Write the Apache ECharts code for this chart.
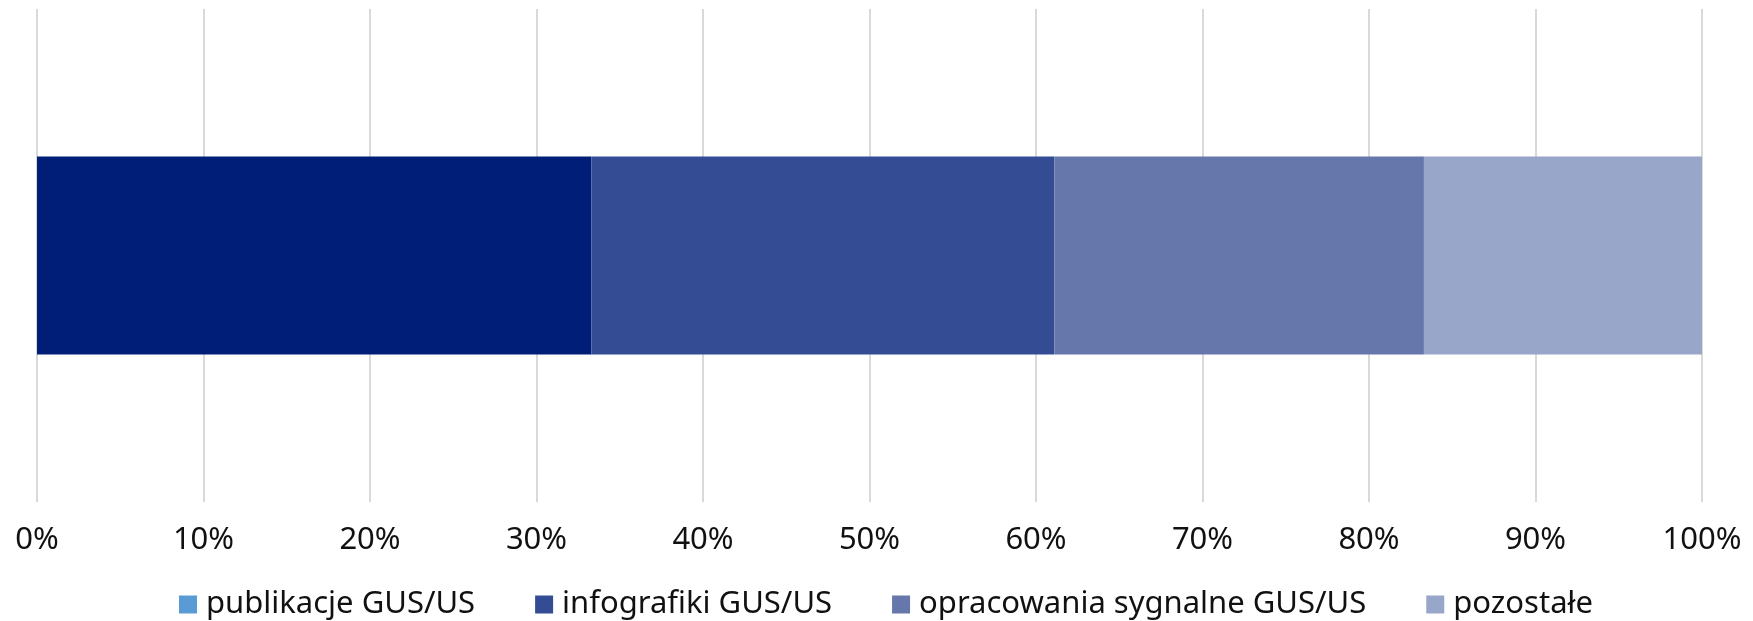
<!DOCTYPE html>
<html>
<head>
<meta charset="utf-8">
<script src="https://cdn.jsdelivr.net/npm/echarts@6/dist/echarts.min.js"></script>
<style>html,body{margin:0;padding:0;background:#fff}#c{width:1753px;height:621px}</style>
</head>
<body>
<div id="c"></div>
<script>
const categories = ['2023'];
const seriesNames = ['publikacje GUS/US', 'infografiki GUS/US', 'opracowania sygnalne GUS/US', 'pozostałe'];
const publikacje = [33.3];
const infografiki = [27.8];
const opracowania = [22.2];
const pozostale = [16.7];
const tickValues = [0, 10, 20, 30, 40, 50, 60, 70, 80, 90, 100];

const barColors = ['#001E78', '#344C94', '#6677AB', '#98A6C9'];
const legendColors = ['#5B9BD5', '#344C94', '#6677AB', '#98A6C9'];
const values = [publikacje, infografiki, opracowania, pozostale];
const FONT = 'Noto Sans';

const chart = echarts.init(document.getElementById('c'), null, {renderer: 'canvas'});
chart.setOption({
  animation: false,
  textStyle: {fontFamily: FONT},
  grid: {left: 37, right: 51, top: 9, bottom: 119, containLabel: false},
  xAxis: {
    type: 'value', min: tickValues[0], max: tickValues[tickValues.length - 1], interval: 10,
    axisLine: {show: false}, axisTick: {show: false},
    splitLine: {show: true, lineStyle: {color: '#D9D9D9', width: 2}},
    axisLabel: {formatter: '{value}%', fontSize: 31, color: '#111', margin: 23, fontFamily: FONT}
  },
  yAxis: {
    type: 'category', data: categories,
    axisLine: {show: false}, axisTick: {show: false}, axisLabel: {show: false}
  },
  legend: {
    top: 584, left: 174, icon: 'rect', itemWidth: 18, itemHeight: 18, itemGap: 60,
    textStyle: {fontSize: 31, color: '#111', fontFamily: FONT, padding: [0, 0, 0, 4]},
    data: seriesNames.map((n, i) => ({name: n, itemStyle: {color: legendColors[i]}}))
  },
  series: seriesNames.map((n, i) => ({
    name: n, type: 'bar', stack: 'total', data: values[i], barWidth: 198,
    itemStyle: {color: barColors[i]}
  }))
});
</script>
</body>
</html>
